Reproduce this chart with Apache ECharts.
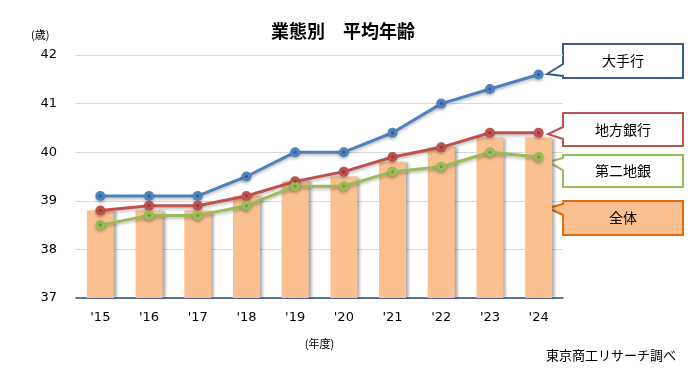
<!DOCTYPE html>
<html><head><meta charset="utf-8">
<script src="https://cdn.jsdelivr.net/npm/echarts@6/dist/echarts.min.js"></script>
<style>html,body{margin:0;padding:0;background:#fff}#c{width:700px;height:382px}</style>
</head><body><div id="c"></div>
<script>
const categories = ["'15","'16","'17","'18","'19","'20","'21","'22","'23","'24"];
const zentai   = [38.8,38.8,38.8,39.1,39.4,39.5,39.8,40.1,40.3,40.3];
const oote     = [39.1,39.1,39.1,39.5,40.0,40.0,40.4,41.0,41.3,41.6];
const chihou   = [38.8,38.9,38.9,39.1,39.4,39.6,39.9,40.1,40.4,40.4];
const daini    = [38.5,38.7,38.7,38.9,39.3,39.3,39.6,39.7,40.0,39.9];
const yTicks = [37,38,39,40,41,42];

const FONT = "'DejaVu Sans','Noto Sans CJK JP',sans-serif";
const JP = "'Noto Sans CJK JP',sans-serif";

function lineSeries(name, data, color, dot){
  return [{
    name, type:'line', data, z:3,
    symbol:'circle', symbolSize:10,
    lineStyle:{color, width:3, shadowColor:'rgba(0,0,0,0.25)', shadowBlur:3, shadowOffsetY:2},
    itemStyle:{color, shadowColor:'rgba(0,0,0,0.25)', shadowBlur:3, shadowOffsetY:2},
    silent:true
  },{
    type:'scatter', data, z:4, symbol:'circle', symbolSize:3,
    itemStyle:{color:dot}, silent:true
  }];
}

function callout(y, h, tipX, tipY, ay1, ay2, text, stroke, fill){
  const x = 563, w = 120;
  return [{
    type:'polygon',
    shape:{points:[[x,y],[x+w,y],[x+w,y+h],[x,y+h],[x,ay2],[tipX,tipY],[x,ay1]]},
    style:{fill, stroke, lineWidth:2}
  },{
    type:'text', x:x+w/2, y:y+h/2, z:10,
    style:{text, font:"14px "+JP, fill:'#000', textAlign:'center', textVerticalAlign:'middle'}
  }];
}

const chart = echarts.init(document.getElementById('c'));
chart.setOption({
  animation:false,
  title:{text:'業態別　平均年齢', left:266, top:17,
    textStyle:{fontFamily:JP, fontSize:18, fontWeight:'bold', color:'#000'}},
  grid:{left:76, right:137, top:55, bottom:84},
  xAxis:{type:'category', data:categories, boundaryGap:true,
    axisLine:{lineStyle:{color:'#2E4A7A', width:1.5}},
    axisTick:{show:false},
    axisLabel:{fontFamily:FONT, fontSize:13, color:'#000', margin:13},
    name:'(年度)', nameLocation:'middle', nameGap:40,
    nameTextStyle:{fontFamily:JP, fontSize:11, color:'#000'}},
  yAxis:{type:'value', min:37, max:42, interval:1,
    axisLine:{show:false}, axisTick:{show:false},
    axisLabel:{fontFamily:FONT, fontSize:13, color:'#000', margin:19,
      formatter:v=> yTicks.includes(v) ? String(v) : ''},
    splitLine:{lineStyle:{color:'#D9D9D9', width:1}}},
  series:[
    {name:'全体', type:'bar', data:zentai, barWidth:27, z:2,
     itemStyle:{color:'#FAC090', shadowColor:'rgba(0,0,0,0.35)', shadowBlur:3, shadowOffsetX:3, shadowOffsetY:0},
     silent:true},
    ...lineSeries('大手行', oote, '#4F81BD', '#2A4F86'),
    ...lineSeries('地方銀行', chihou, '#C0504D', '#8E2E2B'),
    ...lineSeries('第二地銀', daini, '#9BBB59', '#6E8A36')
  ],
  graphic:[
    {type:'text', left:31, top:29, style:{text:'(歳)', font:"11px "+JP, fill:'#000'}},
    {type:'text', right:24, top:349, style:{text:'東京商工リサーチ調べ', font:"13px "+JP, fill:'#000'}},
    ...callout(44, 34, 547, 74, 64, 76, '大手行', '#385D8A', '#fff'),
    ...callout(113, 33, 548, 134, 127, 139, '地方銀行', '#B85450', '#fff'),
    ...callout(155, 32, 548, 162, 158, 170, '第二地銀', '#9BBB59', '#fff'),
    ...callout(201, 34, 548, 208, 204, 215, '全体', '#E46C0A', '#FAC090')
  ]
});
</script></body></html>
